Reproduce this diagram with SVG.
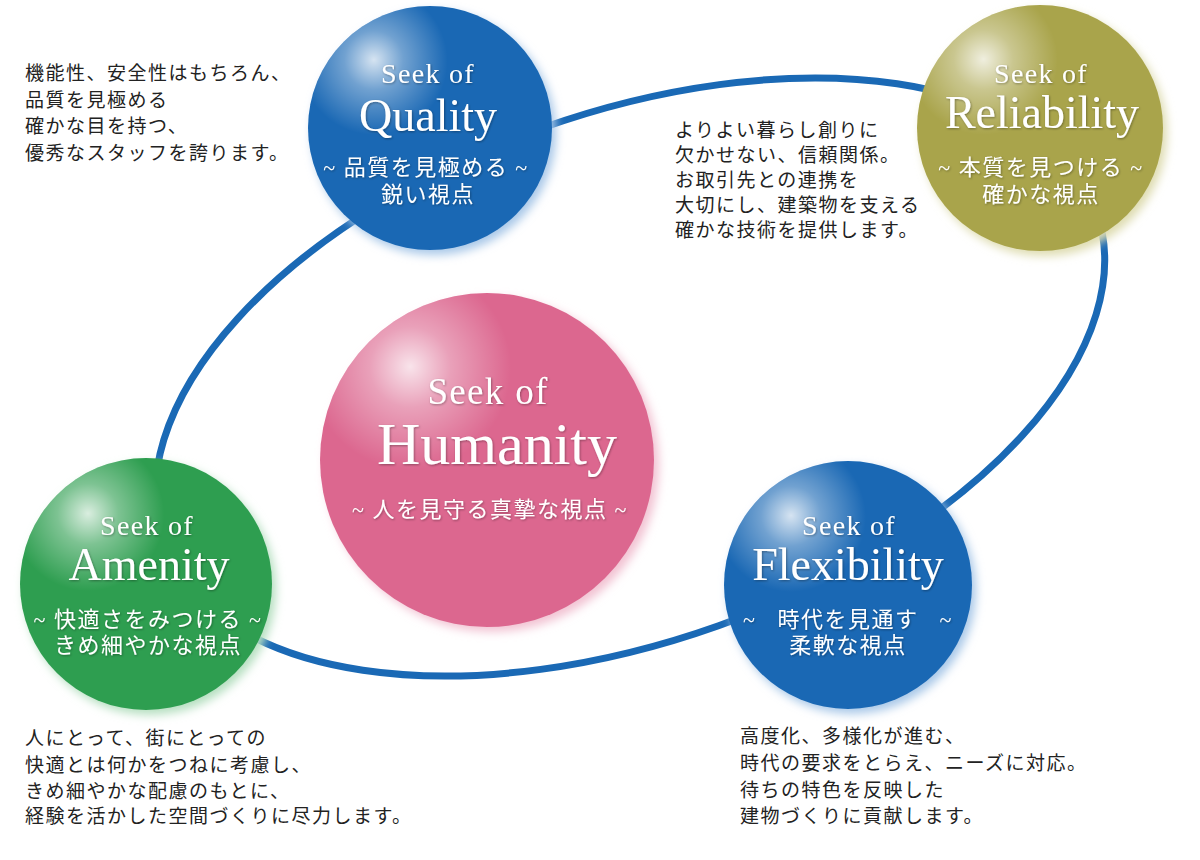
<svg xmlns="http://www.w3.org/2000/svg" width="1200" height="860" viewBox="0 0 1200 860">
<defs>
<radialGradient id="hl" cx="0.27" cy="0.23" r="0.55" fx="0.27" fy="0.22">
<stop offset="0" stop-color="#ffffff" stop-opacity="0.82"/>
<stop offset="0.22" stop-color="#ffffff" stop-opacity="0.38"/>
<stop offset="0.55" stop-color="#ffffff" stop-opacity="0"/>
</radialGradient>
<filter id="glow" x="-30%" y="-30%" width="160%" height="160%">
<feGaussianBlur stdDeviation="5"/>
</filter>
<filter id="ts" x="-10%" y="-30%" width="120%" height="160%">
<feDropShadow dx="0.8" dy="1" stdDeviation="0.8" flood-color="#000" flood-opacity="0.35"/>
</filter>
<style>
.ring{fill:none;stroke:#1a69b5;stroke-width:7}
.seek{font-family:'Liberation Serif',serif;font-size:28px;letter-spacing:1.3px;fill:#fff;text-anchor:middle}
.title{font-family:'Liberation Serif',serif;font-size:46px;fill:#fff;text-anchor:middle}
.big{font-size:60px}
.seekbig{font-size:37px}
.jp{font-family:'Liberation Serif','Noto Sans CJK JP',serif;font-size:22px;letter-spacing:1.5px;fill:#fff;text-anchor:middle;white-space:pre}
.body{font-family:'Noto Sans CJK JP','Noto Sans CJK SC',sans-serif;font-size:19px;letter-spacing:1.5px;fill:#222}
.hl{fill:url(#hl)}
</style>
</defs>
<rect width="1200" height="860" fill="#ffffff"/>

<g id="connectors">
<ellipse class="ring" cx="630" cy="377" rx="495" ry="264" transform="rotate(-19.6 630 377)"/>
</g>

<g id="node-quality">
<circle cx="434" cy="133" r="122" fill="#a9c8e8" filter="url(#glow)"/>
<circle cx="430" cy="128" r="122" fill="#1a68b4"/>
<circle class="hl" cx="430" cy="128" r="122"/>
<g filter="url(#ts)">
<text class="seek" x="428" y="83">Seek of</text>
<text class="title" x="428" y="131">Quality</text>
<text class="jp" x="426" y="175">~ 品質を見極める ~</text>
<text class="jp" x="428" y="202">鋭い視点</text>
</g>
</g>

<g id="node-reliability">
<circle cx="1044" cy="133" r="123" fill="#dedcb0" filter="url(#glow)"/>
<circle cx="1040" cy="128" r="123" fill="#a9a44b"/>
<circle class="hl" cx="1040" cy="128" r="123"/>
<g filter="url(#ts)">
<text class="seek" x="1041" y="83">Seek of</text>
<text class="title" x="1042" y="128">Reliability</text>
<text class="jp" x="1041" y="175">~ 本質を見つける ~</text>
<text class="jp" x="1041" y="202">確かな視点</text>
</g>
</g>

<g id="node-humanity">
<circle cx="492" cy="465" r="167" fill="#f2c3d3" filter="url(#glow)"/>
<circle cx="487" cy="460" r="167" fill="#dc678f"/>
<circle class="hl" cx="487" cy="460" r="167"/>
<g filter="url(#ts)">
<text class="seek seekbig" x="488" y="404">Seek of</text>
<text class="title big" x="497" y="464">Humanity</text>
<text class="jp" x="490" y="517">~ 人を見守る真摯な視点 ~</text>
</g>
</g>

<g id="node-amenity">
<circle cx="150" cy="589" r="126" fill="#b5dfc0" filter="url(#glow)"/>
<circle cx="146" cy="584" r="126" fill="#2e9e50"/>
<circle class="hl" cx="146" cy="584" r="126"/>
<g filter="url(#ts)">
<text class="seek" x="147" y="535">Seek of</text>
<text class="title" x="149" y="580">Amenity</text>
<text class="jp" x="148" y="627">~ 快適さをみつける ~</text>
<text class="jp" x="148" y="653">きめ細やかな視点</text>
</g>
</g>

<g id="node-flexibility">
<circle cx="852" cy="590" r="124" fill="#a9c8e8" filter="url(#glow)"/>
<circle cx="848" cy="585" r="124" fill="#1a68b4"/>
<circle class="hl" cx="848" cy="585" r="124"/>
<g filter="url(#ts)">
<text class="seek" x="849" y="535">Seek of</text>
<text class="title" x="848" y="580">Flexibility</text>
<text class="jp" x="848" y="627">~   時代を見通す   ~</text>
<text class="jp" x="848" y="653">柔軟な視点</text>
</g>
</g>

<g id="text-quality">
<text class="body" x="25" y="80">機能性、安全性はもちろん、</text>
<text class="body" x="25" y="107">品質を見極める</text>
<text class="body" x="25" y="133">確かな目を持つ、</text>
<text class="body" x="25" y="160">優秀なスタッフを誇ります。</text>
</g>

<g id="text-reliability">
<text class="body" x="675" y="137">よりよい暮らし創りに</text>
<text class="body" x="675" y="162">欠かせない、信頼関係。</text>
<text class="body" x="675" y="187">お取引先との連携を</text>
<text class="body" x="675" y="212">大切にし、建築物を支える</text>
<text class="body" x="675" y="237">確かな技術を提供します。</text>
</g>

<g id="text-amenity">
<text class="body" x="25" y="745">人にとって、街にとっての</text>
<text class="body" x="25" y="772">快適とは何かをつねに考慮し、</text>
<text class="body" x="25" y="798">きめ細やかな配慮のもとに、</text>
<text class="body" x="25" y="823">経験を活かした空間づくりに尽力します。</text>
</g>

<g id="text-flexibility">
<text class="body" x="740" y="743">高度化、多様化が進む、</text>
<text class="body" x="740" y="770">時代の要求をとらえ、ニーズに対応。</text>
<text class="body" x="740" y="797">待ちの特色を反映した</text>
<text class="body" x="740" y="823">建物づくりに貢献します。</text>
</g>
</svg>
